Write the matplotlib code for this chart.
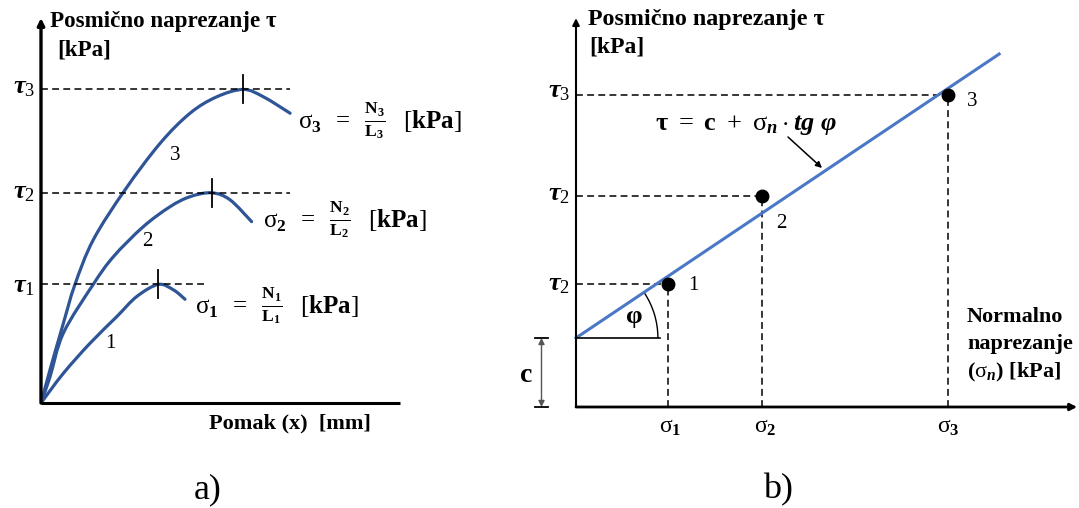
import numpy as np
import matplotlib
matplotlib.use("Agg")
import matplotlib.pyplot as plt
from matplotlib.patches import Arc, PathPatch
from matplotlib.path import Path

plt.rcParams['font.family'] = ['Liberation Serif', 'DejaVu Serif']
plt.rcParams['mathtext.fontset'] = 'custom'
plt.rcParams['mathtext.rm'] = 'Liberation Serif'
plt.rcParams['mathtext.it'] = 'Liberation Serif:italic:bold'
plt.rcParams['mathtext.bf'] = 'Liberation Serif:bold'

# a) shear stress vs. displacement (x in mm, tau in kPa, read off the picture)
x1 = [0, 0.62, 1.36, 2.10, 2.66, 3.26, 3.68, 4.00]
t1 = [0, 7.6, 15.3, 22.1, 27.3, 30.4, 29.0, 26.6]
x2 = [0, 0.25, 0.62, 1.45, 2.01, 2.84, 3.58, 4.14, 4.74, 5.25, 5.85]
t2 = [0, 6.7, 17.9, 30.4, 37.5, 45.2, 50.3, 52.9, 53.9, 52.1, 46.5]
x3 = [0, 0.25, 0.62, 0.94, 1.45, 2.33, 3.31, 4.14, 4.88, 5.62, 6.18, 6.92]
t3 = [0, 8.5, 20.4, 30.3, 41.8, 54.6, 66.6, 74.3, 78.5, 80.4, 78.5, 74.3]
peak_x = [3.26, 4.74, 5.62]
peak_tau = [30.4, 53.9, 80.4]
dash_end = [4.64, 6.92, 6.92]

# b) failure envelope (sigma_n, tau in kPa)
sigma_n = [23.5, 47.8, 95.5]
tau_f = [31.5, 54.1, 80.0]
c = 17.7
tg_phi = 0.671
sigma_end = 108.5

W, H = 1079, 508
fig = plt.figure(figsize=(W / 100, H / 100), dpi=100)


def ptxt(x, y, s, **kw):
    kw.setdefault('va', 'center')
    fig.text(x / W, 1 - y / H, s, **kw)


def smooth_path(xs, ys):
    # cubic bezier through the read points (Catmull-Rom control points)
    p = np.column_stack([xs, ys]).astype(float)
    verts, codes = [p[0]], [Path.MOVETO]
    n = len(p)
    for i in range(n - 1):
        p0 = p[i - 1] if i > 0 else p[i]
        p3 = p[i + 2] if i + 2 < n else p[i + 1]
        c1 = p[i] + (p[i + 1] - p0) / 6
        c2 = p[i + 1] - (p3 - p[i]) / 6
        verts += [c1, c2, p[i + 1]]
        codes += [Path.CURVE4] * 3
    return Path(verts, codes)


blue_a = '#2f5597'
blue_b = '#4a78c6'
dash = dict(color='black', lw=1.1, dashes=(4.5, 2.8))

# ---------- panel a ----------
sx, sy = 36.0, 3.9          # pixels per unit
ax = fig.add_axes([41 / W, (H - 403) / H, 9.97 * sx / W, 98.7 * sy / H])
ax.set_xlim(0, 9.97)
ax.set_ylim(0, 98.7)
ax.axis('off')

ax.annotate('', xy=(0, 98.7), xytext=(0, 0),
            arrowprops=dict(arrowstyle='-|>', lw=2.4, color='black', mutation_scale=10,
                            shrinkA=0, shrinkB=0), annotation_clip=False)
ax.plot([0, 9.97], [0, 0], color='black', lw=2.2, clip_on=False, solid_capstyle='butt')

for xe, tp in zip(dash_end, peak_tau):
    ax.plot([0, xe], [tp, tp], **dash)
for xs, ts in zip([x1, x2, x3], [t1, t2, t3]):
    ax.add_patch(PathPatch(smooth_path(xs, ts), fill=False, edgecolor=blue_a, lw=2.3,
                           capstyle='round', joinstyle='round'))
for xp, tp in zip(peak_x, peak_tau):
    ax.plot([xp, xp], [tp - 3.6, tp + 3.6], color='black', lw=1.3)

ptxt(50, 22, 'Posmično naprezanje τ', fontsize=16.6, fontweight='bold')
ptxt(57, 50, '[kPa]', fontsize=16.6, fontweight='bold')
for i, yy in zip([3, 2, 1], [88, 193, 287]):
    ptxt(35, yy, r'$\tau_%d$' % i, ha='right', fontsize=19)
ptxt(175, 156, '3', ha='center', fontsize=15)
ptxt(147, 242, '2', ha='center', fontsize=15)
ptxt(110, 343, '1', ha='center', fontsize=15)
for i, (xx, yy) in zip([3, 2, 1], [(298, 121), (263, 220), (195, 306)]):
    ptxt(xx, yy, r'$\mathrm{\sigma}_{\mathbf{%d}}\;\;=\;\;\frac{\mathbf{N_%d}}{\mathbf{L_%d}}\;\;\;[\mathbf{kPa}]$'
         % (i, i, i), fontsize=18)
ptxt(209, 423, 'Pomak (x)  [mm]', fontsize=16, fontweight='bold')
ptxt(208, 490, 'a)', ha='center', fontsize=26)

# ---------- panel b ----------
s = 3.9
bx = fig.add_axes([576 / W, (H - 407) / H, 128.5 * s / W, 99.7 * s / H])
bx.set_xlim(0, 128.5)
bx.set_ylim(0, 99.7)
bx.axis('off')

bx.annotate('', xy=(0, 99.7), xytext=(0, 0),
            arrowprops=dict(arrowstyle='-|>', lw=1.5, color='black', mutation_scale=10,
                            shrinkA=0, shrinkB=0), annotation_clip=False)
bx.annotate('', xy=(128.5, 0), xytext=(0, 0),
            arrowprops=dict(arrowstyle='-|>', lw=2.0, color='black', mutation_scale=10,
                            shrinkA=0, shrinkB=0), annotation_clip=False)

for sg, tf in zip(sigma_n, tau_f):
    bx.plot([0, sg], [tf, tf], **dash)
    bx.plot([sg, sg], [0, tf], **dash)

bx.plot([0, sigma_end], [c, c + tg_phi * sigma_end], color=blue_b, lw=2.2, clip_on=False)
bx.plot(sigma_n, tau_f, 'o', color='black', ms=9, clip_on=False)

# angle phi
bx.plot([0, 21.5], [c, c], color='black', lw=1.2)
bx.add_patch(Arc((0, c), 42, 42, theta1=0, theta2=np.degrees(np.arctan(tg_phi)),
                 color='black', lw=1.0))

ptxt(588, 19, 'Posmično naprezanje τ', fontsize=17.3, fontweight='bold')
ptxt(589, 47, '[kPa]', fontsize=17, fontweight='bold')
for i, yy in zip([3, 2, 2], [92, 195, 285]):
    ptxt(570, yy, r'$\tau_%d$' % i, ha='right', fontsize=19)

# c dimension
cx = -34.5 / s
bx.annotate('', xy=(cx, c), xytext=(cx, 0),
            arrowprops=dict(arrowstyle='<|-|>', lw=1.0, color='#555555', mutation_scale=9,
                            shrinkA=0, shrinkB=0), annotation_clip=False)
for yy in [0, c]:
    bx.plot([cx - 1.7, cx + 1.7], [yy, yy], color='black', lw=1.3, clip_on=False)
ptxt(526, 375, 'c', ha='center', fontsize=20, fontweight='bold')

ptxt(634, 317, 'φ', ha='center', fontsize=19, fontweight='bold')
ptxt(655, 125, r'$\mathbf{\tau}\ =\ \mathbf{c}\ +\ \mathrm{\sigma}_{n}\cdot\mathit{tg}\ \varphi$',
     fontsize=19)
bx.annotate('', xy=(822, H - 168), xytext=(788, H - 137), xycoords='figure pixels',
            textcoords='figure pixels',
            arrowprops=dict(arrowstyle='-|>', lw=1.1, color='black', mutation_scale=9,
                            shrinkA=0, shrinkB=0), annotation_clip=False)

for i, xx in zip([1, 2, 3], [670, 765, 948]):
    ptxt(xx, 428, r'$\mathrm{\sigma}_{\mathbf{%d}}$' % i, ha='center', fontsize=17)
ptxt(693, 285, '1', ha='center', fontsize=15)
ptxt(781, 223, '2', ha='center', fontsize=15)
ptxt(972, 102, '3', ha='center', fontsize=15)

ptxt(967, 317, 'Normalno', fontsize=16, fontweight='bold')
ptxt(967, 344, 'naprezanje', fontsize=16, fontweight='bold')
ptxt(967, 372, r'($\mathrm{\sigma}_{n}$) [kPa]', fontsize=16, fontweight='bold')
ptxt(778, 490, 'b)', ha='center', fontsize=26)

fig.savefig('out.png', dpi=100)
